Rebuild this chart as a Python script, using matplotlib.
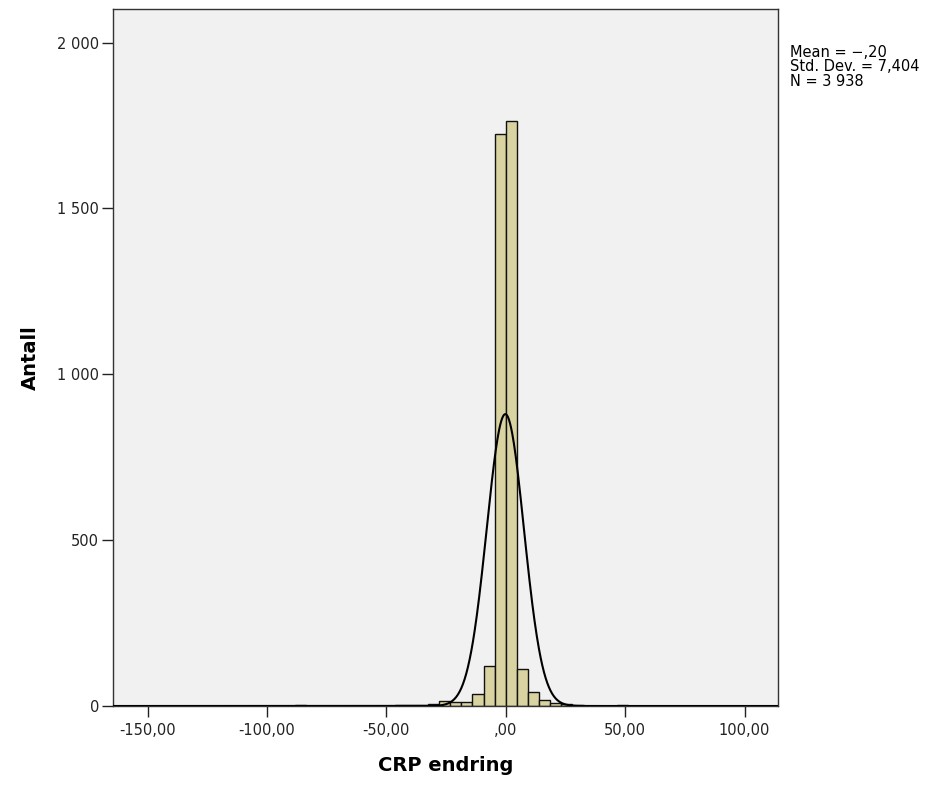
import numpy as np
import matplotlib
matplotlib.use("Agg")
import matplotlib.pyplot as plt

# histogram bins: index k covers [k*bin_width, (k+1)*bin_width)
bin_width = 4.65
bin_index = [-23, -19, -17, -16, -15, -13, -12, -10, -9, -8, -7, -6, -5, -4, -3, -2, -1,
             0, 1, 2, 3, 4, 5, 6, 7, 9, 10, 12, 13, 15, 16, 19]
counts = [1, 2, 1, 1, 1, 1, 1, 3, 4, 4, 7, 14, 12, 13, 36, 121, 1725,
          1764, 112, 41, 19, 8, 6, 3, 1, 1, 4, 1, 1, 1, 1, 1]

# normal curve as drawn
mean = -0.20
curve_sd = 7.8
curve_peak = 880

x_ticks = [-150, -100, -50, 0, 50, 100]
x_tick_labels = ["-150,00", "-100,00", "-50,00", ",00", "50,00", "100,00"]
y_ticks = [0, 500, 1000, 1500, 2000]
y_tick_labels = ["0", "500", "1 000", "1 500", "2 000"]

fig = plt.figure(figsize=(9.51, 7.87), dpi=100)
ax = fig.add_axes([113 / 951, 81 / 787, 665 / 951, 696.5 / 787])
ax.set_facecolor("#f1f1f1")

lefts = np.array(bin_index) * bin_width
ax.bar(lefts, counts, width=bin_width, align="edge", color="#d9d3a1",
       edgecolor="#111111", linewidth=1.0, zorder=2)

xs = np.linspace(-164.5, 114, 1200)
ys = curve_peak * np.exp(-0.5 * ((xs - mean) / curve_sd) ** 2)
ax.plot(xs, ys, color="black", linewidth=1.5, zorder=3)

ax.set_xlim(-164.5, 114)
ax.set_ylim(0, 2100)
ax.set_xticks(x_ticks)
ax.set_xticklabels(x_tick_labels)
ax.set_yticks(y_ticks)
ax.set_yticklabels(y_tick_labels)
ax.tick_params(direction="out", length=8, width=1, colors="#222222",
               labelsize=10.5, pad=2)
ax.tick_params(axis="x", pad=4)
for s in ax.spines.values():
    s.set_color("#333333")
    s.set_linewidth(1)

ax.set_xlabel("CRP endring", fontsize=14, fontweight="bold", labelpad=13)
ax.set_ylabel("Antall", fontsize=14, fontweight="bold", labelpad=12)

fig.text(790 / 951, 1 - 45 / 787,
         "Mean = \u2212,20\nStd. Dev. = 7,404\nN = 3 938",
         fontsize=10.5, va="top", ha="left", linespacing=0.95)

fig.savefig("out.png", dpi=100)
